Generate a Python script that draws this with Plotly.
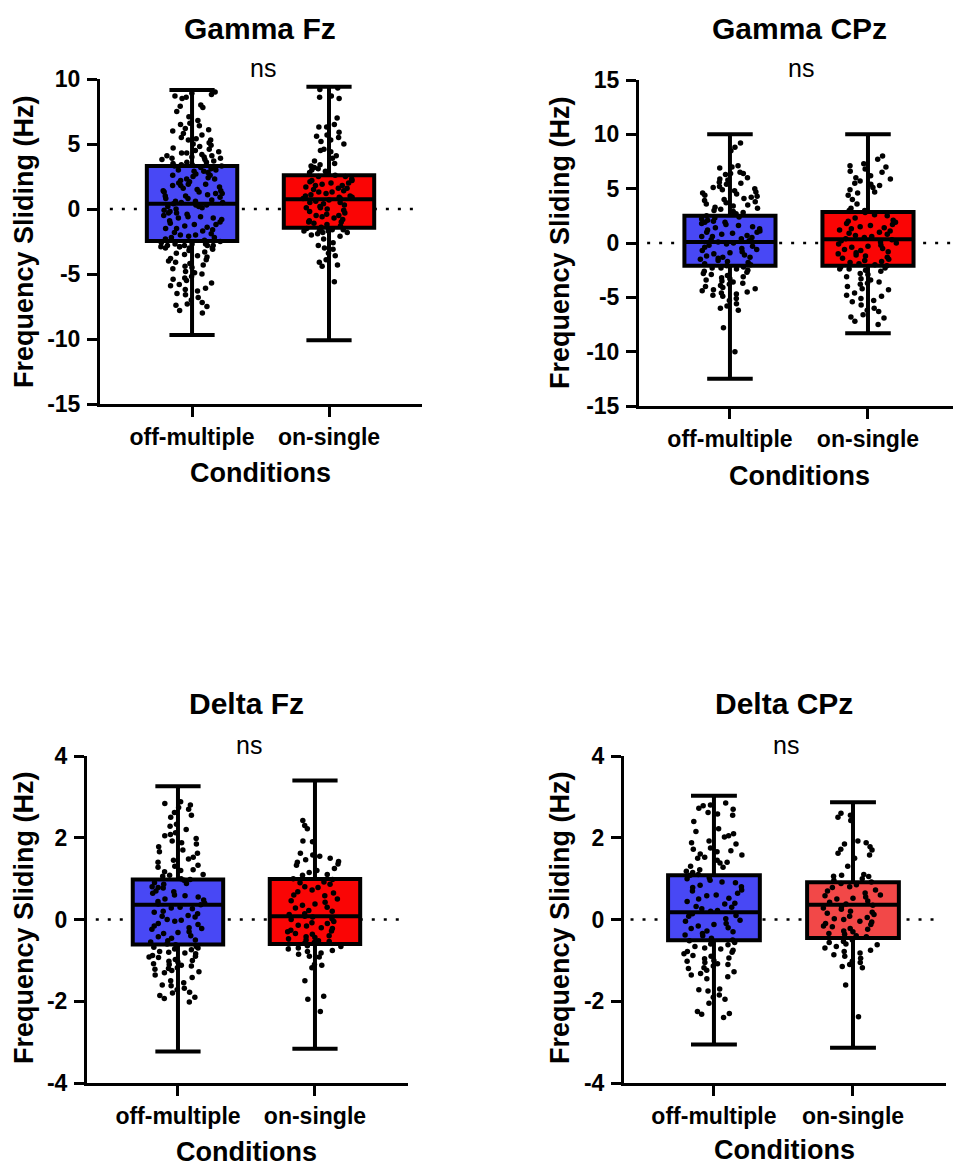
import plotly.graph_objects as go

W, H = 953, 1167

categories = ["off-multiple", "on-single"]
panel_titles = ["Gamma Fz", "Gamma CPz", "Delta Fz", "Delta CPz"]
sig_labels = ["ns", "ns", "ns", "ns"]
y_title = "Frequency Sliding (Hz)"
x_title = "Conditions"

gamma_fz_ticks = [-15, -10, -5, 0, 5, 10]
gamma_cpz_ticks = [-15, -10, -5, 0, 5, 10, 15]
delta_ticks = [-4, -2, 0, 2, 4]

# ---- box statistics per panel: [off-multiple, on-single] ----
gfz_q1 = [-2.46, -1.45]; gfz_med = [0.4, 0.75]; gfz_q3 = [3.3, 2.6]; gfz_min = [-9.7, -10.1]; gfz_max = [9.15, 9.4]
gcpz_q1 = [-2.1, -2.1]; gcpz_med = [0.1, 0.35]; gcpz_q3 = [2.5, 2.85]; gcpz_min = [-12.5, -8.3]; gcpz_max = [10.0, 10.0]
dfz_q1 = [-0.61, -0.6]; dfz_med = [0.36, 0.08]; dfz_q3 = [0.98, 0.99]; dfz_min = [-3.23, -3.16]; dfz_max = [3.26, 3.4]
dcpz_q1 = [-0.51, -0.45]; dcpz_med = [0.18, 0.36]; dcpz_q3 = [1.08, 0.91]; dcpz_min = [-3.06, -3.14]; dcpz_max = [3.03, 2.87]

gfz_off = [9.0, 8.9, 8.8, 8.7, 8.6, 8.5, 8.0, 7.9, 7.8, 7.5, 7.1, 6.8, 6.6, 6.5, 6.4, 6.2, 6.1, 6.0, 5.8, 5.7,
           5.5, 5.4, 5.3, 5.3, 5.1, 5.0, 4.9, 4.8, 4.7, 4.6, 4.5, 4.4, 4.3, 4.3, 4.2, 4.1, 4.1, 4.0, 4.0, 3.9,
           3.9, 3.8, 3.8, 3.7, 3.6, 3.6, 3.5, 3.4, 3.4, 3.3, 3.3, 3.2, 3.2, 3.1, 3.0, 3.0, 2.9, 2.9, 2.8, 2.7,
           2.6, 2.6, 2.5, 2.4, 2.3, 2.3, 2.2, 2.1, 2.0, 1.9, 1.9, 1.8, 1.8, 1.7, 1.6, 1.5, 1.4, 1.4, 1.3, 1.3,
           1.2, 1.2, 1.1, 1.0, 1.0, 0.9, 0.8, 0.8, 0.7, 0.6, 0.6, 0.5, 0.5, 0.4, 0.3, 0.3, 0.2, 0.2, 0.1, 0.0,
           -0.1, -0.2, -0.3, -0.3, -0.4, -0.5, -0.6, -0.6, -0.7, -0.7, -0.8, -0.9, -1.0, -1.1, -1.2, -1.2,
           -1.3, -1.4, -1.5, -1.5, -1.6, -1.7, -1.8, -1.9, -2.0, -2.0, -2.1, -2.2, -2.2, -2.3, -2.4, -2.5,
           -2.6, -2.7, -2.7, -2.7, -2.8, -2.8, -2.8, -2.8, -2.9, -2.9, -2.9, -3.0, -3.0, -3.0, -3.1, -3.2,
           -3.3, -3.4, -3.5, -3.6, -3.7, -3.8, -3.9, -4.0, -4.1, -4.2, -4.3, -4.4, -4.5, -4.6, -4.8, -4.9,
           -5.0, -5.2, -5.3, -5.4, -5.5, -5.7, -5.8, -5.9, -6.1, -6.2, -6.3, -6.5, -6.6, -6.8, -7.0, -7.2,
           -7.3, -7.4, -7.5, -7.8, -8.0]
gfz_on = [9.3, 9.2, 8.7, 8.6, 8.5, 7.0, 6.5, 6.3, 6.3, 5.9, 5.7, 5.6, 5.5, 5.3, 5.2, 5.0, 4.6, 4.5, 4.4, 4.1,
          3.9, 3.7, 3.5, 3.4, 3.3, 3.2, 3.1, 3.0, 2.9, 2.8, 2.7, 2.6, 2.5, 2.5, 2.3, 2.2, 2.2, 2.1, 2.0, 2.0,
          1.9, 1.8, 1.8, 1.7, 1.6, 1.6, 1.5, 1.4, 1.3, 1.3, 1.2, 1.1, 1.0, 1.0, 0.9, 0.9, 0.8, 0.8, 0.7, 0.6,
          0.5, 0.5, 0.4, 0.3, 0.2, 0.1, 0.1, 0.0, -0.1, -0.2, -0.3, -0.4, -0.5, -0.5, -0.6, -0.7, -0.8, -0.9,
          -1.0, -1.0, -1.1, -1.2, -1.3, -1.4, -1.5, -1.5, -1.6, -1.6, -1.6, -1.7, -1.7, -1.7, -1.8, -1.8,
          -1.9, -2.0, -2.1, -2.3, -2.6, -2.8, -3.0, -3.1, -3.4, -3.6, -3.9, -4.1, -4.3, -4.4, -5.6]
gcpz_off = [9.2, 8.8, 8.5, 7.1, 7.0, 6.9, 6.5, 6.4, 6.4, 6.3, 6.0, 5.9, 5.8, 5.6, 5.5, 5.4, 5.2, 5.1, 5.0, 4.9,
            4.8, 4.7, 4.6, 4.5, 4.4, 4.3, 4.2, 4.1, 4.0, 3.9, 3.8, 3.7, 3.6, 3.5, 3.4, 3.3, 3.2, 3.1, 3.0, 2.9,
            2.8, 2.7, 2.5, 2.4, 2.3, 2.2, 2.1, 2.0, 1.9, 1.9, 1.8, 1.7, 1.6, 1.5, 1.4, 1.3, 1.2, 1.1, 1.0, 1.0,
            0.9, 0.8, 0.7, 0.6, 0.6, 0.5, 0.4, 0.3, 0.2, 0.1, 0.0, -0.1, -0.2, -0.3, -0.4, -0.5, -0.6, -0.7,
            -0.8, -0.9, -1.0, -1.1, -1.2, -1.3, -1.3, -1.4, -1.5, -1.6, -1.7, -1.8, -1.9, -2.0, -2.1, -2.2,
            -2.3, -2.3, -2.4, -2.5, -2.6, -2.7, -2.8, -2.9, -3.0, -3.1, -3.2, -3.3, -3.4, -3.5, -3.6, -3.7,
            -3.8, -3.9, -4.0, -4.1, -4.2, -4.3, -4.4, -4.5, -4.6, -4.7, -4.8, -4.9, -5.1, -5.3, -5.6, -5.8,
            -6.0, -6.2, -7.8, -10.0]
gcpz_on = [8.0, 7.7, 7.3, 7.1, 7.0, 6.8, 6.6, 6.5, 6.2, 6.0, 5.9, 5.7, 5.5, 5.4, 5.3, 5.1, 4.9, 4.7, 4.6, 4.4,
           4.0, 3.6, 3.2, 3.0, 3.0, 2.8, 2.6, 2.5, 2.3, 2.1, 2.0, 1.9, 1.8, 1.7, 1.6, 1.5, 1.4, 1.3, 1.2, 1.1,
           1.0, 0.9, 0.8, 0.7, 0.6, 0.5, 0.4, 0.3, 0.2, 0.1, 0.0, -0.1, -0.2, -0.3, -0.4, -0.5, -0.6, -0.7,
           -0.8, -0.9, -1.0, -1.1, -1.2, -1.3, -1.4, -1.5, -1.6, -1.7, -1.8, -1.9, -2.0, -2.1, -2.2, -2.3,
           -2.4, -2.4, -2.5, -2.6, -2.8, -2.9, -3.1, -3.3, -3.4, -3.6, -3.7, -3.8, -4.0, -4.2, -4.3, -4.6,
           -4.8, -4.9, -5.1, -5.3, -5.4, -5.7, -6.0, -6.2, -6.3, -6.6, -6.8, -6.9, -7.2, -7.5]
dfz_off = [2.88, 2.84, 2.8, 2.74, 2.7, 2.62, 2.55, 2.5, 2.33, 2.28, 2.2, 2.12, 2.08, 2.05, 1.98, 1.92, 1.88,
           1.85, 1.78, 1.7, 1.66, 1.62, 1.52, 1.48, 1.45, 1.4, 1.33, 1.3, 1.28, 1.22, 1.2, 1.17, 1.1, 1.08,
           1.06, 1.0, 0.98, 0.96, 0.9, 0.88, 0.86, 0.8, 0.78, 0.77, 0.7, 0.68, 0.64, 0.6, 0.58, 0.55, 0.5,
           0.48, 0.44, 0.4, 0.38, 0.36, 0.3, 0.28, 0.26, 0.2, 0.18, 0.14, 0.1, 0.08, 0.06, 0.0, -0.02, -0.04,
           -0.1, -0.12, -0.16, -0.2, -0.22, -0.24, -0.3, -0.32, -0.34, -0.4, -0.42, -0.46, -0.5, -0.52, -0.55,
           -0.6, -0.62, -0.66, -0.68, -0.7, -0.72, -0.74, -0.78, -0.8, -0.82, -0.84, -0.88, -0.9, -0.92,
           -0.93, -0.98, -1.0, -1.02, -1.04, -1.08, -1.1, -1.12, -1.14, -1.18, -1.2, -1.22, -1.25, -1.28,
           -1.3, -1.36, -1.42, -1.5, -1.55, -1.6, -1.62, -1.68, -1.72, -1.78, -1.8, -1.86, -1.9, -1.93, -2.02]
dfz_on = [2.42, 2.3, 2.22, 1.92, 1.9, 1.62, 1.58, 1.55, 1.5, 1.46, 1.42, 1.4, 1.36, 1.33, 1.25, 1.2, 1.15,
          1.1, 1.08, 1.0, 0.98, 0.92, 0.9, 0.86, 0.8, 0.78, 0.72, 0.68, 0.65, 0.6, 0.58, 0.5, 0.46, 0.42,
          0.38, 0.35, 0.3, 0.28, 0.22, 0.2, 0.14, 0.12, 0.08, 0.06, 0.02, 0.0, -0.05, -0.08, -0.1, -0.14,
          -0.16, -0.2, -0.22, -0.26, -0.28, -0.3, -0.34, -0.36, -0.4, -0.42, -0.44, -0.47, -0.5, -0.52,
          -0.54, -0.56, -0.58, -0.6, -0.64, -0.66, -0.7, -0.72, -0.76, -0.78, -0.82, -0.85, -0.9, -0.92,
          -1.1, -1.12, -1.18, -1.5, -1.88, -1.95, -2.25]
dcpz_off = [2.85, 2.8, 2.78, 2.72, 2.7, 2.62, 2.58, 2.55, 2.4, 2.22, 2.15, 2.1, 2.05, 2.02, 1.92, 1.88, 1.85,
            1.75, 1.72, 1.68, 1.66, 1.6, 1.58, 1.52, 1.5, 1.45, 1.4, 1.38, 1.3, 1.28, 1.22, 1.18, 1.15, 1.1,
            1.08, 1.02, 1.0, 0.96, 0.92, 0.9, 0.84, 0.8, 0.78, 0.72, 0.7, 0.64, 0.6, 0.58, 0.52, 0.5, 0.44,
            0.4, 0.38, 0.32, 0.3, 0.26, 0.22, 0.2, 0.14, 0.1, 0.08, 0.02, -0.02, -0.04, -0.1, -0.12, -0.16,
            -0.2, -0.22, -0.28, -0.3, -0.34, -0.38, -0.4, -0.46, -0.5, -0.52, -0.56, -0.6, -0.62, -0.66, -0.7,
            -0.72, -0.75, -0.78, -0.8, -0.84, -0.88, -0.9, -0.94, -0.96, -1.0, -1.02, -1.05, -1.08, -1.1,
            -1.14, -1.18, -1.2, -1.24, -1.28, -1.32, -1.36, -1.4, -1.45, -1.7, -1.72, -1.75, -1.85, -1.9,
            -1.95, -2.05, -2.25, -2.3, -2.32, -2.4]
dcpz_on = [2.6, 2.55, 2.5, 2.42, 1.92, 1.88, 1.85, 1.78, 1.72, 1.7, 1.62, 1.58, 1.5, 1.3, 1.1, 1.08, 1.06,
           1.05, 1.0, 0.96, 0.92, 0.88, 0.85, 0.8, 0.78, 0.72, 0.7, 0.65, 0.6, 0.58, 0.55, 0.52, 0.5, 0.45,
           0.42, 0.38, 0.35, 0.32, 0.28, 0.25, 0.2, 0.18, 0.15, 0.12, 0.08, 0.05, 0.02, 0.0, -0.04, -0.06,
           -0.1, -0.12, -0.16, -0.18, -0.22, -0.24, -0.28, -0.3, -0.34, -0.36, -0.4, -0.42, -0.5, -0.54,
           -0.56, -0.6, -0.62, -0.66, -0.7, -0.75, -0.78, -0.82, -0.86, -0.9, -0.95, -1.02, -1.05, -1.1,
           -1.15, -1.18, -1.6, -2.38]

panels = [
    dict(off=gfz_off, on=gfz_on, q1=gfz_q1, med=gfz_med, q3=gfz_q3, lo=gfz_min, hi=gfz_max,
         yrange=[-15, 10], ticks=gamma_fz_ticks, colors=["#4848f5", "#fa0505"]),
    dict(off=gcpz_off, on=gcpz_on, q1=gcpz_q1, med=gcpz_med, q3=gcpz_q3, lo=gcpz_min, hi=gcpz_max,
         yrange=[-15, 15], ticks=gamma_cpz_ticks, colors=["#4848f5", "#fa0505"]),
    dict(off=dfz_off, on=dfz_on, q1=dfz_q1, med=dfz_med, q3=dfz_q3, lo=dfz_min, hi=dfz_max,
         yrange=[-4, 4], ticks=delta_ticks, colors=["#4848f5", "#fa0505"]),
    dict(off=dcpz_off, on=dcpz_on, q1=dcpz_q1, med=dcpz_med, q3=dcpz_q3, lo=dcpz_min, hi=dcpz_max,
         yrange=[-4, 4], ticks=delta_ticks, colors=["#4848f5", "#f24848"]),
]

# layout geometry in pixels
geom = [
    dict(x0=100, x1=422, y0=79, y1=404, xr=[-0.672, 1.679], title=(260, 28), ns=(263, 68), yt=(24, 242), xt=(260, 473), dot=[-0.6, 1.63]),
    dict(x0=639, x1=953, y0=80, y1=406, xr=[-0.659, 1.616], title=(799, 28), ns=(801, 68), yt=(560, 243), xt=(799, 476), dot=[-0.6, 1.7]),
    dict(x0=87, x1=408, y0=756, y1=1083, xr=[-0.664, 1.679], title=(247, 703), ns=(249, 745), yt=(24, 918), xt=(247, 1152), dot=[-0.6, 1.63]),
    dict(x0=624, x1=946, y0=756, y1=1083, xr=[-0.647, 1.669], title=(784, 703), ns=(786, 745), yt=(560, 918), xt=(784, 1150), dot=[-0.6, 1.63]),
]

FONT = "Liberation Sans, Arial, sans-serif"
fig = go.Figure()
layout = dict(width=W, height=H, autosize=False, margin=dict(l=0, r=0, t=0, b=0, pad=0, autoexpand=False),
              plot_bgcolor="white", paper_bgcolor="white", showlegend=False, boxmode="overlay",
              annotations=[], shapes=[])

def px(x):
    return x / W

def py(y):
    return 1 - y / H

for i, (p, g) in enumerate(zip(panels, geom)):
    n = "" if i == 0 else str(i + 1)
    xa, ya = "x" + n, "y" + n
    for j, cat in enumerate(categories):
        fig.add_trace(go.Box(
            x=[cat], q1=[p["q1"][j]], median=[p["med"][j]], q3=[p["q3"][j]],
            lowerfence=[p["lo"][j]], upperfence=[p["hi"][j]],
            fillcolor=p["colors"][j], line=dict(color="black", width=4),
            whiskerwidth=0.5, width=0.66, boxpoints=False, xaxis=xa, yaxis=ya, hoverinfo="skip"))
        vals = p["off"] if j == 0 else p["on"]
        fig.add_trace(go.Box(
            x=[cat] * len(vals), y=vals, boxpoints="all", jitter=0.7, pointpos=0,
            fillcolor="rgba(0,0,0,0)", line=dict(color="rgba(0,0,0,0)", width=0),
            marker=dict(color="black", size=5.5), width=0.66, whiskerwidth=0,
            xaxis=xa, yaxis=ya))
    axis_common = dict(showline=True, linecolor="black", linewidth=3, ticks="outside", ticklen=10,
                       tickwidth=3, tickcolor="black", showgrid=False, zeroline=False, automargin=False)
    layout["xaxis" + n] = dict(axis_common, domain=[px(g["x0"]), px(g["x1"])], anchor=ya,
                               type="category", categoryorder="array", categoryarray=categories,
                               range=g["xr"], ticklabelstandoff=0,
                               tickfont=dict(family=FONT, size=23, color="black", weight="bold"))
    layout["yaxis" + n] = dict(axis_common, domain=[py(g["y1"]), py(g["y0"])], anchor=xa,
                               range=p["yrange"], tickvals=p["ticks"],
                               ticktext=[str(t) for t in p["ticks"]], ticklabelstandoff=2,
                               tickfont=dict(family=FONT, size=23, color="black", weight="bold"))
    layout["shapes"].append(dict(type="line", xref=xa, yref=ya, x0=g["dot"][0], x1=g["dot"][1], y0=0, y1=0,
                                 line=dict(color="black", width=2.5, dash="3px,9px"), layer="below"))
    layout["annotations"] += [
        dict(text=panel_titles[i], x=px(g["title"][0]), y=py(g["title"][1]), xref="paper", yref="paper",
             showarrow=False, xanchor="center", yanchor="middle",
             font=dict(family=FONT, size=30, color="black", weight="bold")),
        dict(text=sig_labels[i], x=px(g["ns"][0]), y=py(g["ns"][1]), xref="paper", yref="paper",
             showarrow=False, xanchor="center", yanchor="middle",
             font=dict(family=FONT, size=25, color="black")),
        dict(text=y_title, x=px(g["yt"][0]), y=py(g["yt"][1]), xref="paper", yref="paper",
             showarrow=False, xanchor="center", yanchor="middle", textangle=-90,
             font=dict(family=FONT, size=27, color="black", weight="bold")),
        dict(text=x_title, x=px(g["xt"][0]), y=py(g["xt"][1]), xref="paper", yref="paper",
             showarrow=False, xanchor="center", yanchor="middle",
             font=dict(family=FONT, size=27, color="black", weight="bold")),
    ]

fig.update_layout(**layout)
fig.write_html("out.html", config={"displayModeBar": False})
